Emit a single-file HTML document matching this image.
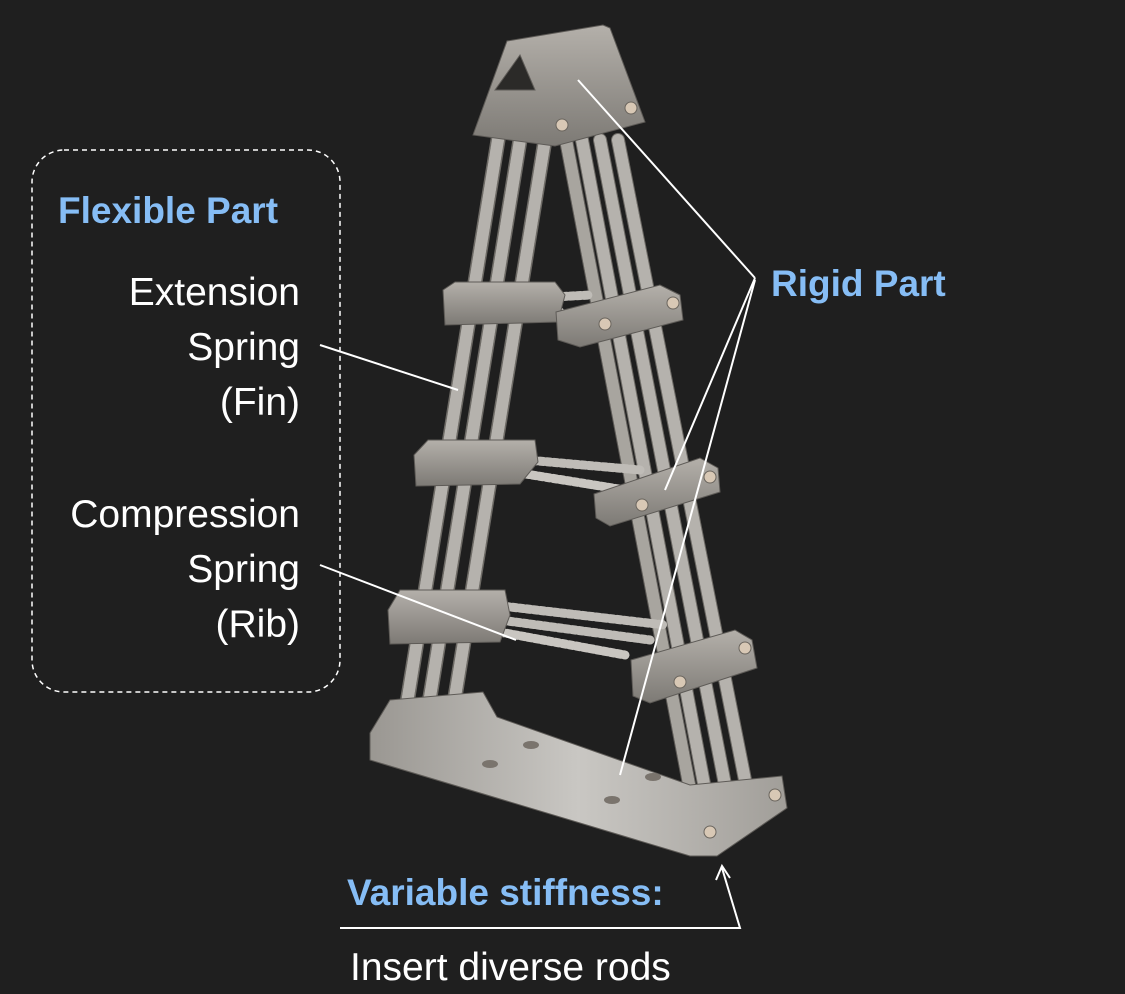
<!DOCTYPE html>
<html><head><meta charset="utf-8"><style>
html,body{margin:0;padding:0;background:#1f1f1f;}
body{width:1125px;height:994px;overflow:hidden;position:relative;font-family:"Liberation Sans","DejaVu Sans",sans-serif;}
.t{position:absolute;color:#fff;font-size:39px;line-height:1;white-space:nowrap;}
.b{color:#86bdf5;font-weight:bold;font-size:37px;}
.r{text-align:right;right:825px;}
</style></head><body>
<svg width="1125" height="994" style="position:absolute;left:0;top:0">
<defs>
<linearGradient id="blk" x1="0" y1="0" x2="0" y2="1"><stop offset="0" stop-color="#b4b0aa"/><stop offset="1" stop-color="#7d7a75"/></linearGradient>
<linearGradient id="base" x1="0" y1="0" x2="1" y2="0"><stop offset="0" stop-color="#9a9792"/><stop offset=".5" stop-color="#c9c7c3"/><stop offset="1" stop-color="#a19e99"/></linearGradient>
</defs>
<rect x="32" y="150" width="308" height="542" rx="32" fill="none" stroke="#fff" stroke-width="1.5" stroke-dasharray="5,4"/>
<g stroke-linecap="round">
<line x1="566" y1="140" x2="693" y2="805" stroke="#5e5b57" stroke-width="14"/>
<line x1="582" y1="140" x2="708" y2="805" stroke="#6d6a65" stroke-width="14"/>
<line x1="600" y1="140" x2="728" y2="800" stroke="#6d6a65" stroke-width="14"/>
<line x1="618" y1="140" x2="748" y2="795" stroke="#6d6a65" stroke-width="14"/>
<line x1="566" y1="140" x2="693" y2="805" stroke="#a8a59f" stroke-width="12" stroke-dasharray="1.5,2"/>
<line x1="582" y1="140" x2="708" y2="805" stroke="#b5b2ad" stroke-width="12" stroke-dasharray="1.5,2"/>
<line x1="600" y1="140" x2="728" y2="800" stroke="#b5b2ad" stroke-width="12" stroke-dasharray="1.5,2"/>
<line x1="618" y1="140" x2="748" y2="795" stroke="#b5b2ad" stroke-width="12" stroke-dasharray="1.5,2"/>
<line x1="498" y1="140" x2="403" y2="728" stroke="#6d6a65" stroke-width="15"/>
<line x1="520" y1="140" x2="425" y2="728" stroke="#6d6a65" stroke-width="15"/>
<line x1="545" y1="140" x2="450" y2="728" stroke="#6d6a65" stroke-width="15"/>
<line x1="498" y1="140" x2="403" y2="728" stroke="#b5b2ad" stroke-width="12" stroke-dasharray="1.5,2"/>
<line x1="520" y1="140" x2="425" y2="728" stroke="#b5b2ad" stroke-width="12" stroke-dasharray="1.5,2"/>
<line x1="545" y1="140" x2="450" y2="728" stroke="#b5b2ad" stroke-width="12" stroke-dasharray="1.5,2"/>
</g>
<g stroke-dasharray="4,3" stroke-linecap="round">
<line x1="500" y1="300" x2="590" y2="295" stroke="#bfbcb7" stroke-width="9"/>
<line x1="500" y1="310" x2="560" y2="312" stroke="#c9c6c1" stroke-width="9"/>
<line x1="470" y1="455" x2="640" y2="470" stroke="#bfbcb7" stroke-width="9"/>
<line x1="470" y1="465" x2="625" y2="490" stroke="#c9c6c1" stroke-width="9"/>
<line x1="440" y1="612" x2="650" y2="640" stroke="#bfbcb7" stroke-width="9"/>
<line x1="450" y1="600" x2="665" y2="625" stroke="#bfbcb7" stroke-width="9"/>
<line x1="445" y1="622" x2="625" y2="655" stroke="#c9c6c1" stroke-width="9"/>
</g>
<g fill="url(#blk)" stroke="#5e5b57" stroke-width="1">
<polygon points="443,290 455,282 555,282 565,295 558,322 445,325"/>
<polygon points="556,312 660,285 680,295 683,320 580,347 558,340"/>
<polygon points="414,455 428,440 535,440 538,462 520,484 416,486"/>
<polygon points="594,494 700,458 718,468 720,492 610,526 596,518"/>
<polygon points="388,610 400,590 505,590 510,615 500,642 390,644"/>
<polygon points="631,660 735,630 752,640 757,668 650,703 633,696"/>
<polygon points="370,733 390,700 483,692 497,717 690,785 782,776 787,808 717,856 690,856 370,760" fill="url(#base)"/>
<polygon points="473,135 507,41 603,25 610,28 645,122 555,146"/>
<polygon points="495,90 520,55 535,90" fill="#2b2a28"/>
</g>
<g fill="#d8c8b5" stroke="#6a655e">
<circle cx="562" cy="125" r="6"/><circle cx="631" cy="108" r="6"/>
<circle cx="605" cy="324" r="6"/><circle cx="673" cy="303" r="6"/>
<circle cx="642" cy="505" r="6"/><circle cx="710" cy="477" r="6"/>
<circle cx="680" cy="682" r="6"/><circle cx="745" cy="648" r="6"/>
<circle cx="710" cy="832" r="6"/><circle cx="775" cy="795" r="6"/>
</g>
<g fill="#7a746d"><ellipse cx="490" cy="764" rx="8" ry="4"/><ellipse cx="531" cy="745" rx="8" ry="4"/><ellipse cx="612" cy="800" rx="8" ry="4"/><ellipse cx="653" cy="777" rx="8" ry="4"/></g>
<g stroke="#fff" stroke-width="2" fill="none">
<line x1="320" y1="345" x2="458" y2="390"/>
<line x1="320" y1="565" x2="516" y2="640"/>
<line x1="755" y1="278" x2="578" y2="80"/>
<line x1="755" y1="278" x2="665" y2="490"/>
<line x1="755" y1="280" x2="620" y2="775"/>
<polyline points="340,928 740,928 722,868"/>
<polyline points="716,880 722,866 730,878"/>
</g>
</svg>
<div class="t b" style="left:58px;top:192px">Flexible Part</div>
<div class="t r" style="top:273px">Extension</div>
<div class="t r" style="top:328px">Spring</div>
<div class="t r" style="top:383px">(Fin)</div>
<div class="t r" style="top:495px">Compression</div>
<div class="t r" style="top:550px">Spring</div>
<div class="t r" style="top:605px">(Rib)</div>
<div class="t b" style="left:771px;top:265px">Rigid Part</div>
<div class="t b" style="left:347px;top:874px">Variable stiffness:</div>
<div class="t" style="left:350px;top:948px">Insert diverse rods</div>
</body></html>
